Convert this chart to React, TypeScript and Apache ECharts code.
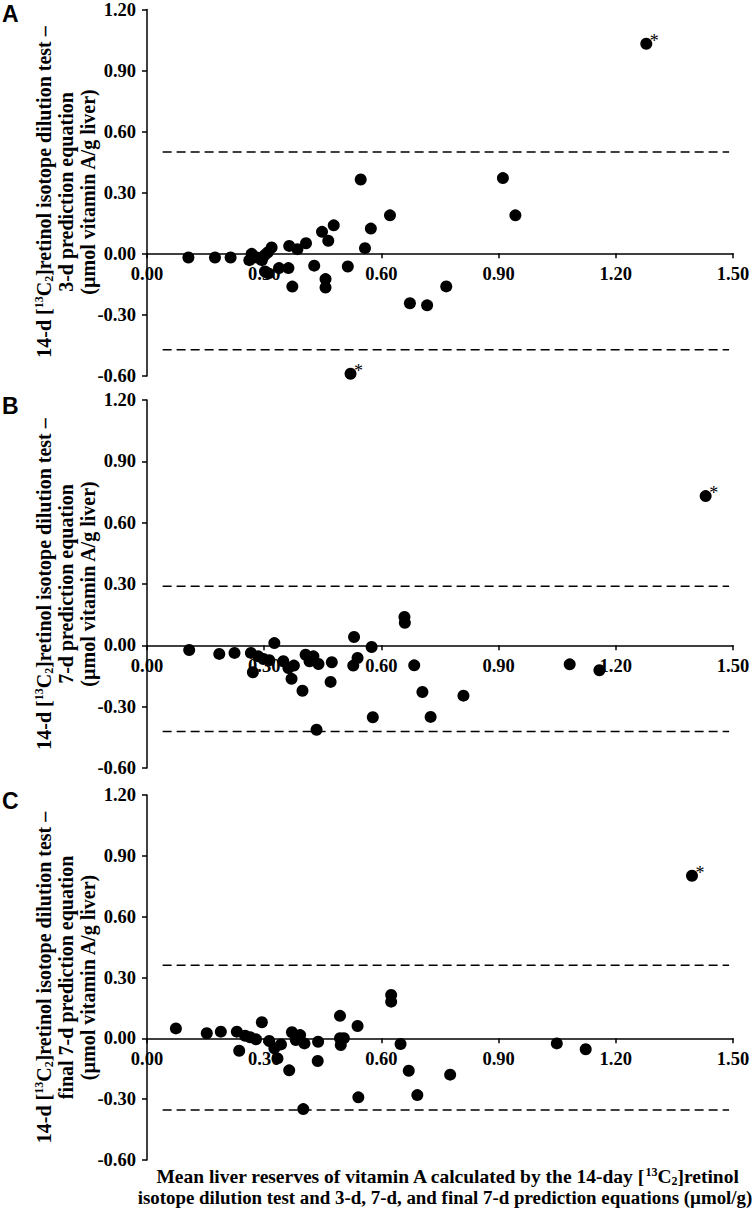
import React, { useEffect, useRef } from "react";
import * as echarts from "echarts";

// Panel A: 14-d RID test – 3-d prediction equation
const pointsA: number[][] = [
  [0.106, -0.018], [0.174, -0.018], [0.214, -0.018], [0.262, -0.031], [0.268, 0.0],
  [0.281, -0.018], [0.294, -0.031], [0.302, -0.005], [0.309, 0.007], [0.319, 0.031],
  [0.302, -0.087], [0.311, -0.096], [0.338, -0.07], [0.362, -0.07], [0.364, 0.039],
  [0.372, -0.161], [0.385, 0.023], [0.407, 0.052], [0.428, -0.058], [0.448, 0.108],
  [0.464, 0.064], [0.457, -0.124], [0.457, -0.165], [0.478, 0.14], [0.514, -0.062],
  [0.547, 0.365], [0.558, 0.028], [0.573, 0.124], [0.622, 0.189], [0.911, 0.372],
  [0.943, 0.189], [0.766, -0.16], [0.673, -0.243], [0.717, -0.253],
];
const starsA: number[][] = [[1.278, 1.032], [0.521, -0.589]];
const limitsA = [0.5, -0.471];

// Panel B: 14-d RID test – 7-d prediction equation
const pointsB: number[][] = [
  [0.108, -0.023], [0.185, -0.042], [0.224, -0.037], [0.266, -0.037], [0.271, -0.132],
  [0.285, -0.054], [0.298, -0.067], [0.313, -0.073], [0.326, 0.011], [0.349, -0.078],
  [0.362, -0.111], [0.376, -0.099], [0.37, -0.164], [0.398, -0.222], [0.406, -0.046],
  [0.426, -0.054], [0.416, -0.078], [0.439, -0.091], [0.434, -0.413], [0.473, -0.083],
  [0.47, -0.179], [0.53, 0.041], [0.528, -0.099], [0.539, -0.062], [0.575, -0.008],
  [0.578, -0.352], [0.659, 0.139], [0.66, 0.11], [0.684, -0.098], [0.705, -0.228],
  [0.726, -0.35], [0.81, -0.246], [1.082, -0.093], [1.158, -0.122],
];
const starsB: number[][] = [[1.43, 0.73]];
const limitsB = [0.289, -0.421];

// Panel C: 14-d RID test – final 7-d prediction equation
const pointsC: number[][] = [
  [0.074, 0.049], [0.153, 0.025], [0.189, 0.033], [0.23, 0.033], [0.236, -0.061],
  [0.251, 0.013], [0.264, 0.005], [0.279, -0.005], [0.294, 0.079], [0.313, -0.013],
  [0.326, -0.049], [0.334, -0.099], [0.343, -0.03], [0.364, -0.158], [0.371, 0.03],
  [0.381, -0.008], [0.392, 0.016], [0.403, -0.025], [0.4, -0.349], [0.438, -0.017],
  [0.437, -0.112], [0.494, 0.111], [0.494, 0.001], [0.504, 0.001], [0.496, -0.033],
  [0.539, 0.061], [0.541, -0.291], [0.625, 0.214], [0.625, 0.181], [0.649, -0.028],
  [0.67, -0.16], [0.692, -0.28], [0.776, -0.179], [1.049, -0.025], [1.123, -0.054],
];
const starsC: number[][] = [[1.395, 0.802]];
const limitsC = [0.361, -0.354];

const limitSpan = [0.04, 1.49];
const xRange = [0, 1.5, 0.3];
const yRange = [-0.6, 1.2, 0.3];

const panelLetters = ["A", "B", "C"];
const yTitleSecond = [
  "3-d prediction equation",
  "7-d prediction equation",
  "final 7-d prediction equation",
];
const yTitleFirst = "14-d [{sup|13}C{sub|2}]retinol isotope dilution test –";
const yTitleThird = "(µmol vitamin A/g liver)";
const xTitle1 = "Mean liver reserves of vitamin A calculated by the 14-day [{sup|13}C{sub|2}]retinol";
const xTitle2 = "isotope dilution test and 3-d, 7-d, and final 7-d prediction equations (µmol/g)";

const SERIF = "'Liberation Serif', 'Times New Roman', serif";

const grids = [
  { left: 147, top: 8, width: 586, height: 368 },
  { left: 147, top: 400, width: 586, height: 368 },
  { left: 147, top: 795, width: 586, height: 365 },
];

const richStyles = {
  sup: { fontSize: 12, fontWeight: "bold", fontFamily: SERIF, verticalAlign: "top", lineHeight: 12, fill: "#000", color: "#000" },
  sub: { fontSize: 12, fontWeight: "bold", fontFamily: SERIF, verticalAlign: "bottom", lineHeight: 12, fill: "#000", color: "#000" },
};

export default function App() {
  const ref = useRef<HTMLDivElement>(null);

  useEffect(() => {
    if (!ref.current) return;
    const chart = echarts.init(ref.current, undefined, { renderer: "svg" });

    const allPoints = [pointsA, pointsB, pointsC];
    const allStars = [starsA, starsB, starsC];
    const allLimits = [limitsA, limitsB, limitsC];

    const axisTick = { show: true, inside: false, length: 5, lineStyle: { color: "#000", width: 1.5 } };
    const labelStyle = {
      color: "#000",
      fontFamily: SERIF,
      fontWeight: "bold" as const,
      fontSize: 18.5,
      formatter: (v: number) => v.toFixed(2),
    };

    // x-axis sits at y = 0: shift it up from the grid bottom by the share of the range below zero
    const xAxis = grids.map((g, i) => ({
      type: "value",
      gridIndex: i,
      min: xRange[0],
      max: xRange[1],
      interval: xRange[2],
      position: "bottom",
      offset: -g.height * ((0 - yRange[0]) / (yRange[1] - yRange[0])),
      axisLine: { show: true, onZero: false, lineStyle: { color: "#000", width: 1.5 } },
      axisTick,
      axisLabel: { ...labelStyle, margin: 11 },
      splitLine: { show: false },
    }));
    const yAxis = grids.map((_, i) => ({
      type: "value",
      gridIndex: i,
      min: yRange[0],
      max: yRange[1],
      interval: yRange[2],
      axisLine: { show: true, onZero: false, lineStyle: { color: "#000", width: 1.5 } },
      axisTick,
      axisLabel: { ...labelStyle, margin: 11 },
      splitLine: { show: false },
    }));

    const series: any[] = [];
    grids.forEach((_, i) => {
      allLimits[i].forEach((lv) => {
        series.push({
          type: "line",
          xAxisIndex: i,
          yAxisIndex: i,
          data: [[limitSpan[0], lv], [limitSpan[1], lv]],
          symbol: "none",
          silent: true,
          lineStyle: { color: "#000", width: 1.5, type: [9, 5] },
          z: 1,
        });
      });
      series.push({
        type: "scatter",
        xAxisIndex: i,
        yAxisIndex: i,
        data: allPoints[i],
        symbol: "circle",
        symbolSize: 12,
        itemStyle: { color: "#000", opacity: 1 },
        z: 3,
      });
      series.push({
        type: "scatter",
        xAxisIndex: i,
        yAxisIndex: i,
        data: allStars[i],
        symbol: "circle",
        symbolSize: 12,
        itemStyle: { color: "#000", opacity: 1 },
        label: {
          show: true,
          formatter: "*",
          position: [14, 3],
          align: "center",
          verticalAlign: "middle",
          fontFamily: SERIF,
          fontSize: 18,
          color: "#000",
        },
        z: 3,
      });
    });

    const graphic: any[] = [];
    grids.forEach((g, i) => {
      const cy = g.top + g.height / 2;
      graphic.push({
        type: "text",
        left: 2,
        top: g.top - 6,
        style: {
          text: panelLetters[i],
          fontFamily: "'Liberation Sans', Arial, sans-serif",
          fontWeight: "bold",
          fontSize: 23,
          fill: "#000",
        },
      });
      const lines = [yTitleFirst, yTitleSecond[i], yTitleThird];
      const xs = [44, 66, 88];
      lines.forEach((t, k) => {
        graphic.push({
          type: "text",
          x: xs[k],
          y: cy,
          rotation: Math.PI / 2,
          style: {
            text: t,
            fontFamily: SERIF,
            fontWeight: "bold",
            fontSize: 20,
            fill: "#000",
            align: "center",
            verticalAlign: "middle",
            lineHeight: 22,
            rich: richStyles,
          },
        });
      });
    });
    const xTitleSizes = [19.5, 18.9];
    const xTitleCenters = [447, 445];
    [xTitle1, xTitle2].forEach((t, k) => {
      graphic.push({
        type: "text",
        x: xTitleCenters[k],
        y: 1176 + k * 21,
        style: {
          text: t,
          fontFamily: SERIF,
          fontWeight: "bold",
          fontSize: xTitleSizes[k],
          fill: "#000",
          align: "center",
          verticalAlign: "middle",
          lineHeight: 21,
          rich: richStyles,
        },
      });
    });

    chart.setOption({
      animation: false,
      backgroundColor: "#fff",
      grid: grids,
      xAxis,
      yAxis,
      series,
      graphic,
    });

    return () => chart.dispose();
  }, []);

  return (
    <div
      ref={ref}
      style={{ position: "absolute", left: 0, top: 0, width: 754, height: 1210 }}
    />
  );
}
